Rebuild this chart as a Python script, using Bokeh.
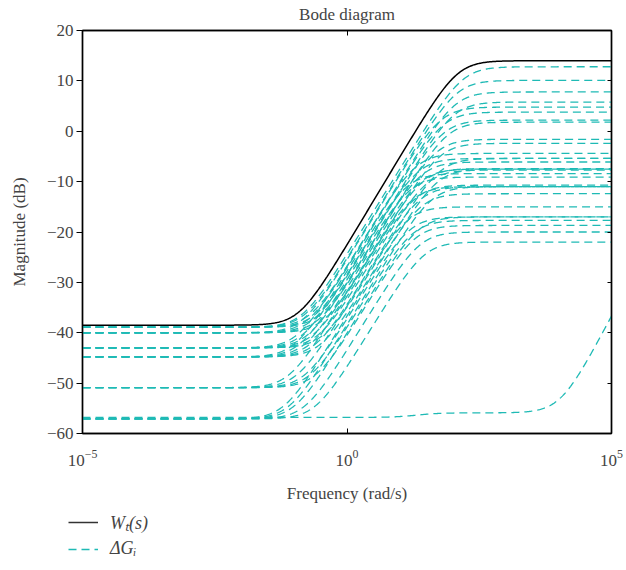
import numpy as np
from bokeh.plotting import figure
from bokeh.layouts import column
from bokeh.models import (LinearAxis, FixedTicker, LogTickFormatter,
                          CustomJSTickFormatter, Legend, LegendItem, Range1d)
from bokeh.embed import file_html
from bokeh.resources import INLINE

# ---- axis settings / tick labels ----
freq_min, freq_max = 1e-5, 1e5
mag_min, mag_max = -60, 20
y_ticks = [-60, -50, -40, -30, -20, -10, 0, 10, 20]
x_ticks = [1e-5, 1e0, 1e5]

# ---- W_t(s): low-frequency gain, high-frequency gain (dB), corner (log10 rad/s), order ----
wt_low_db = -38.5
wt_high_db = 14.0
wt_corner_log = -0.91
wt_order = 0.875

# ---- Delta G_i family ----
dg_low_db = [-38.9, -38.9, -38.9, -38.9, -38.9,
             -40.0, -40.0, -40.0, -40.0, -40.0,
             -43.0, -43.0, -43.0, -43.0, -43.0, -43.0,
             -44.8, -44.8, -44.8, -44.8, -44.8, -44.8,
             -50.9, -50.9, -50.9, -50.9, -50.9,
             -57.1, -57.1, -57.1, -57.1, -57.1]
dg_high_db = [12.8, 10.1, 7.8, 5.8, -1.6,
              4.8, 3.8, 2.2, 1.8, -2.4,
              -4.4, -5.4, -6.1, -7.4, -7.7, -5.4,
              -8.4, -9.1, -7.5, -10.7, -11.0, -12.4,
              -11.0, -15.0, -17.0, -17.7, -18.7,
              -7.5, -17.0, -20.0, -22.0, -11.0]
dg_corner_log = [-0.85, -0.80, -0.70, -0.60, -0.50,
                 -0.85, -0.75, -0.65, -0.55, -0.45,
                 -0.95, -0.85, -0.75, -0.65, -0.55, -0.45,
                 -1.00, -0.90, -0.80, -0.70, -0.60, -0.50,
                 -1.10, -0.95, -0.80, -0.70, -0.60,
                 -1.20, -1.00, -0.80, -0.60, -1.10]
dg_order = 0.85

# outlier member of the family: flat, small step, then late rise
out_low_db = -56.8
out_step_db = 0.9
out_step_corner_log = 1.3
out_rise_corner_log = 4.04
out_rise_db = 39.0

legend_labels = ["W\u209c(s)", "\u0394G\u1d62"]

W_COLOR = "black"
G_COLOR = "#1fbab5"
FONT = "Liberation Serif"
G_DASH = "8 5"


def bode_db(w, low, high, zlog, n):
    plog = zlog + (high - low) / (20.0 * n)
    return (low + 10 * n * np.log10(1 + (w / 10 ** zlog) ** 2)
            - 10 * n * np.log10(1 + (w / 10 ** plog) ** 2))


w = np.logspace(np.log10(freq_min), np.log10(freq_max), 700)

p = figure(width=626, height=508, x_axis_type="log",
           x_range=Range1d(freq_min, freq_max), y_range=Range1d(mag_min, mag_max),
           output_backend="svg", toolbar_location=None, title="Bode diagram",
           min_border_left=82, min_border_right=15, min_border_bottom=75,
           min_border_top=30)
p.grid.visible = False
p.outline_line_color = "black"
p.outline_line_width = 1.4
p.background_fill_color = "white"
p.border_fill_color = "white"

p.title.align = "center"
p.title.vertical_align = "top"
p.title.text_font = FONT
p.title.text_font_size = "17px"
p.title.text_font_style = "normal"
p.title.standoff = 9

xa = p.below[0]
xa.ticker = FixedTicker(ticks=x_ticks)
xa.formatter = LogTickFormatter()
xa.major_tick_in = 5
xa.major_tick_out = 0
xa.minor_tick_line_color = None
xa.major_label_standoff = 16
xa.major_label_text_font = FONT
xa.major_label_text_font_size = "17px"
xa.axis_label = "Frequency (rad/s)"
xa.axis_label_text_font = FONT
xa.axis_label_text_font_size = "17px"
xa.axis_label_text_font_style = "normal"
xa.axis_label_standoff = 15
xa.axis_line_width = 1.4

ya = p.left[0]
ya.ticker = FixedTicker(ticks=y_ticks)
ya.formatter = CustomJSTickFormatter(code="return tick < 0 ? '\u2212' + (-tick) : String(tick);")
ya.major_tick_in = 0
ya.major_tick_out = 6
ya.minor_tick_line_color = None
ya.major_label_standoff = 3
ya.major_label_text_font = FONT
ya.major_label_text_font_size = "17px"
ya.axis_label = "Magnitude (dB)"
ya.axis_label_text_font = FONT
ya.axis_label_text_font_size = "17px"
ya.axis_label_text_font_style = "normal"
ya.axis_label_standoff = 15
ya.axis_line_width = 1.4

ra = LinearAxis(ticker=FixedTicker(ticks=y_ticks), major_tick_in=4, major_tick_out=0,
                minor_tick_line_color=None, formatter=CustomJSTickFormatter(code="return '';"),
                major_label_text_font_size="1px", major_label_text_alpha=0,
                major_label_standoff=0, axis_line_width=1.4)
p.add_layout(ra, "right")
ta = LinearAxis(ticker=FixedTicker(ticks=[1e0]), major_tick_in=5, major_tick_out=0,
                minor_tick_line_color=None, formatter=CustomJSTickFormatter(code="return '';"),
                major_label_text_font_size="1px", major_label_text_alpha=0,
                major_label_standoff=0, axis_line_width=1.4)
p.add_layout(ta, "above")

for lo, hi, z in zip(dg_low_db, dg_high_db, dg_corner_log):
    p.line(w, bode_db(w, lo, hi, z, dg_order), line_color=G_COLOR,
           line_width=1.3, line_dash=G_DASH)
out_y = (bode_db(w, out_low_db, out_low_db + out_step_db, out_step_corner_log, 1.0)
         + bode_db(w, 0.0, out_rise_db, out_rise_corner_log, 1.0))
p.line(w, out_y, line_color=G_COLOR, line_width=1.3, line_dash=G_DASH)

p.line(w, bode_db(w, wt_low_db, wt_high_db, wt_corner_log, wt_order),
       line_color=W_COLOR, line_width=1.5)

# ---- legend strip below the chart ----
lg = figure(width=626, height=62, x_range=Range1d(0, 1), y_range=Range1d(0, 1),
            output_backend="svg", toolbar_location=None,
            min_border_left=0, min_border_right=0, min_border_top=0, min_border_bottom=0)
if "frame_align" in lg.properties():
    lg.frame_align = False
    legend_x = 68
else:
    legend_x = -14
lg.axis.visible = False
lg.grid.visible = False
lg.outline_line_color = None
no_data = [np.nan, np.nan]
lw = lg.line(no_data, no_data, line_color="#333333", line_width=1.5)
lgd = lg.line(no_data, no_data, line_color=G_COLOR, line_width=1.3, line_dash=G_DASH)
legend = Legend(items=[LegendItem(label=legend_labels[0], renderers=[lw]),
                       LegendItem(label=legend_labels[1], renderers=[lgd])],
                location=(legend_x, 11), orientation="vertical",
                border_line_color=None, background_fill_alpha=0,
                glyph_width=30, glyph_height=20, label_standoff=12, spacing=4,
                padding=0, margin=0, label_text_font=FONT,
                label_text_font_size="18px", label_text_font_style="italic")
lg.add_layout(legend, "center")

layout = column(p, lg, spacing=0)
open("out.html", "w").write(file_html(layout, INLINE))
